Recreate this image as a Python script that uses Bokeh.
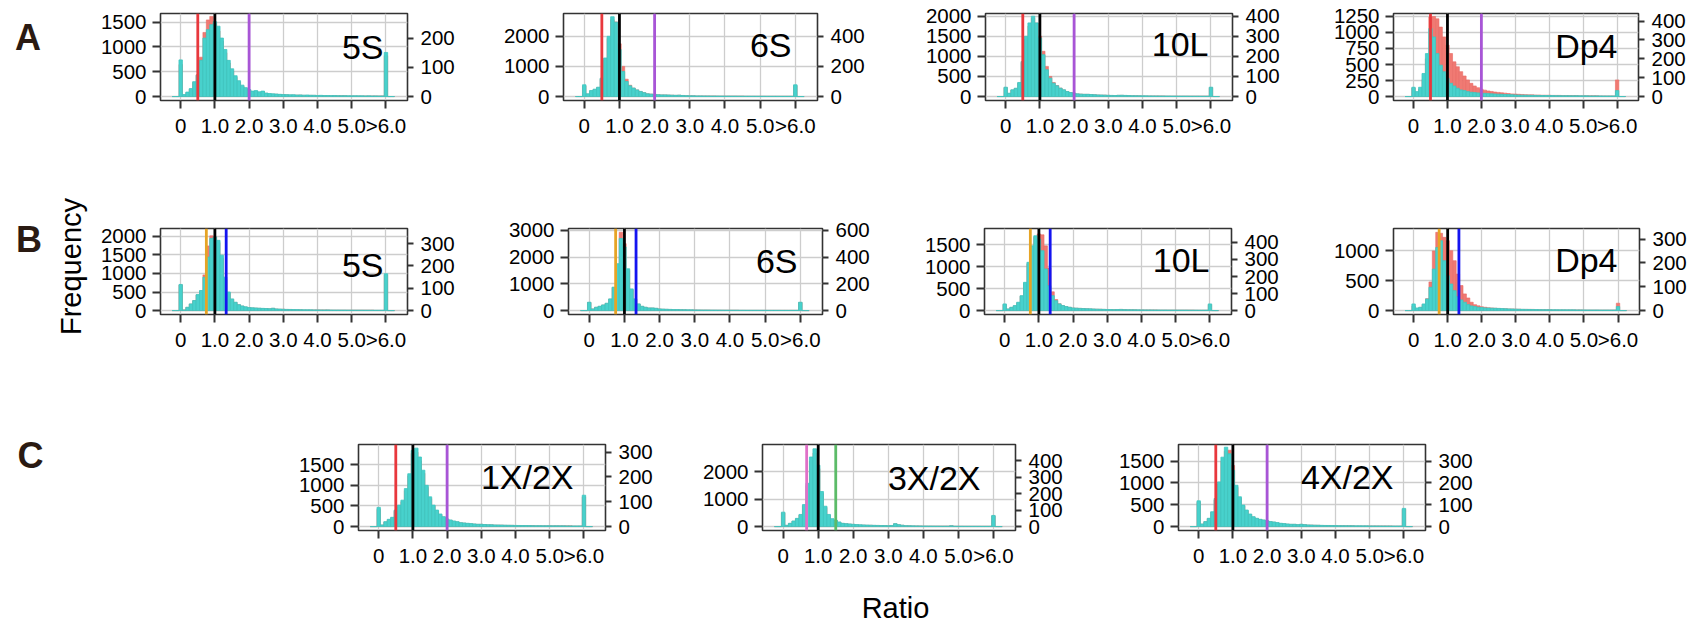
import numpy as np
from bokeh.plotting import figure
from bokeh.models import Range1d, LinearAxis, FixedTicker, Span, Label, Spacer, ColumnDataSource
from bokeh.layouts import row, column
from bokeh.embed import file_html
from bokeh.resources import INLINE
from bokeh.core.properties import value

FONT = "Liberation Sans"

# ---------------- data ----------------
bin_centers = np.round(np.arange(-0.2, 6.2001, 0.1), 1)   # 65 bins, width 0.1
x_tick_values = [0, 1, 2, 3, 4, 5, 6]
x_tick_labels = ["0", "1.0", "2.0", "3.0", "4.0", "5.0", ">6.0"]

# teal histograms (left axis counts), red histograms (right axis counts)
a_5s_teal = [0, 0, 740, 40, 90, 160, 300, 430, 730, 1180,
             1350, 1450, 1510, 1420, 1180, 950, 730, 560, 420, 320,
             230, 180, 140, 110, 120, 95, 110, 70, 60, 55,
             50, 45, 40, 38, 35, 36, 30, 32, 28, 30,
             26, 25, 22, 24, 20, 21, 19, 20, 18, 17,
             18, 16, 15, 16, 14, 15, 13, 14, 12, 13,
             11, 12, 890, 0, 0]
a_5s_red = [0, 0, 110, 5, 13, 25, 48, 75, 135, 220,
            263, 275, 250, 225, 190, 150, 115, 88, 66, 50,
            36, 28, 22, 17, 18, 14, 17, 11, 9, 8,
            8, 7, 6, 6, 5, 5, 5, 5, 4, 4,
            4, 4, 3, 3, 3, 3, 3, 3, 3, 3,
            3, 2, 2, 2, 2, 2, 2, 2, 2, 2,
            2, 2, 140, 0, 0]
a_6s_teal = [0, 0, 390, 90, 200, 245, 310, 610, 1280, 2000,
             2650, 2470, 1560, 830, 500, 355, 280, 220, 170, 130,
             90, 80, 70, 60, 55, 55, 50, 45, 40, 45,
             35, 30, 25, 24, 22, 22, 20, 19, 18, 18,
             17, 16, 15, 15, 14, 14, 13, 13, 12, 12,
             12, 11, 11, 11, 10, 10, 10, 10, 9, 9,
             9, 9, 390, 0, 0]
a_6s_red = [0, 0, 70, 16, 36, 45, 58, 115, 245, 385,
            510, 495, 350, 200, 115, 75, 56, 44, 33, 26,
            18, 16, 14, 12, 11, 11, 10, 9, 8, 9,
            7, 6, 5, 5, 4, 4, 4, 4, 4, 4,
            3, 3, 3, 3, 3, 3, 3, 3, 2, 2,
            2, 2, 2, 2, 2, 2, 2, 2, 2, 2,
            2, 2, 72, 0, 0]
a_10l_teal = [0, 0, 233, 83, 167, 208, 350, 875, 1500, 1833,
              2000, 1833, 1458, 1040, 667, 458, 333, 267, 208, 167,
              125, 100, 83, 67, 60, 55, 55, 50, 45, 40,
              38, 35, 30, 28, 26, 30, 32, 28, 25, 22,
              20, 19, 18, 17, 16, 16, 15, 14, 14, 13,
              13, 12, 12, 11, 11, 11, 10, 10, 10, 9,
              9, 9, 233, 0, 0]
a_10l_red = [0, 0, 44, 15, 32, 40, 66, 170, 285, 350,
             390, 365, 300, 225, 150, 100, 70, 55, 42, 33,
             25, 20, 16, 13, 12, 11, 11, 10, 9, 8,
             7, 7, 6, 5, 5, 6, 6, 5, 5, 4,
             4, 4, 3, 3, 3, 3, 3, 3, 3, 2,
             2, 2, 2, 2, 2, 2, 2, 2, 2, 2,
             2, 2, 44, 0, 0]
a_dp4_teal = [0, 0, 145, 77, 145, 360, 670, 1060, 930, 670,
              490, 387, 284, 207, 165, 130, 103, 93, 77, 67,
              62, 57, 52, 50, 46, 42, 40, 37, 35, 32,
              30, 28, 25, 23, 22, 21, 20, 19, 18, 17,
              16, 16, 15, 15, 14, 14, 13, 13, 12, 12,
              12, 11, 11, 11, 10, 10, 10, 10, 9, 9,
              9, 9, 93, 0, 0]
a_dp4_red = [0, 0, 45, 20, 40, 90, 200, 421, 424, 412,
             368, 316, 272, 228, 184, 158, 132, 109, 88, 70,
             56, 47, 39, 34, 30, 27, 24, 22, 20, 18,
             16, 14, 13, 12, 11, 10, 9, 9, 8, 8,
             7, 7, 7, 6, 6, 6, 5, 5, 5, 5,
             5, 4, 4, 4, 4, 4, 4, 3, 3, 3,
             3, 3, 88, 0, 0]
b_5s_teal = [0, 0, 703, 18, 90, 180, 270, 430, 540, 900,
             1440, 1940, 1980, 1890, 1490, 900, 500, 315, 225, 160,
             125, 100, 81, 75, 70, 65, 60, 55, 50, 63,
             45, 40, 35, 32, 30, 28, 26, 24, 22, 21,
             20, 19, 18, 17, 16, 18, 15, 14, 14, 13,
             13, 12, 12, 11, 11, 11, 10, 10, 10, 9,
             9, 9, 990, 0, 0]
b_5s_red = [0, 0, 115, 3, 14, 29, 44, 70, 88, 160,
            290, 335, 330, 305, 235, 140, 78, 50, 36, 26,
            20, 16, 13, 12, 11, 10, 9, 9, 8, 10,
            7, 6, 6, 5, 5, 4, 4, 4, 3, 3,
            3, 3, 3, 3, 3, 3, 2, 2, 2, 2,
            2, 2, 2, 2, 2, 2, 2, 2, 2, 1,
            1, 1, 160, 0, 0]
b_6s_teal = [0, 0, 312, 62, 125, 162, 212, 275, 437, 875,
             1750, 2690, 2375, 1560, 810, 437, 250, 162, 125, 100,
             100, 87, 62, 55, 50, 45, 40, 38, 35, 32,
             30, 28, 25, 24, 22, 21, 20, 19, 18, 17,
             16, 15, 15, 14, 14, 13, 13, 12, 12, 12,
             11, 11, 11, 10, 10, 10, 10, 9, 9, 9,
             9, 9, 312, 0, 0]
b_6s_red = [0, 0, 60, 12, 24, 31, 41, 53, 85, 172,
            345, 585, 500, 300, 155, 84, 48, 31, 24, 19,
            19, 16, 12, 10, 9, 8, 7, 7, 6, 6,
            5, 5, 5, 4, 4, 4, 4, 3, 3, 3,
            3, 3, 3, 3, 3, 2, 2, 2, 2, 2,
            2, 2, 2, 2, 2, 2, 2, 2, 2, 2,
            2, 2, 60, 0, 0]
b_10l_teal = [0, 0, 152, 38, 76, 114, 190, 340, 644, 1100,
              1477, 1705, 1629, 1364, 947, 568, 340, 227, 152, 114,
              91, 76, 60, 55, 50, 45, 42, 40, 36, 33,
              30, 28, 25, 24, 22, 24, 26, 22, 20, 19,
              18, 17, 16, 16, 15, 15, 14, 14, 13, 13,
              12, 12, 12, 11, 11, 11, 10, 10, 10, 9,
              9, 9, 152, 0, 0]
b_10l_red = [0, 0, 35, 9, 18, 27, 45, 85, 160, 275,
             370, 430, 450, 445, 380, 250, 110, 65, 40, 29,
             23, 19, 15, 14, 13, 12, 11, 10, 9, 8,
             8, 7, 6, 6, 6, 6, 7, 6, 5, 5,
             5, 4, 4, 4, 4, 4, 4, 3, 3, 3,
             3, 3, 3, 3, 3, 3, 3, 3, 2, 2,
             2, 2, 35, 0, 0]
b_dp4_teal = [0, 0, 111, 44, 56, 111, 194, 389, 694, 1055,
              1167, 833, 583, 444, 333, 233, 178, 139, 100, 78,
              67, 56, 50, 45, 42, 40, 38, 36, 33, 30,
              28, 26, 24, 22, 21, 20, 19, 18, 17, 16,
              16, 15, 15, 14, 14, 13, 13, 12, 12, 12,
              11, 11, 11, 10, 10, 10, 10, 9, 9, 9,
              9, 9, 67, 0, 0]
b_dp4_red = [0, 0, 20, 8, 12, 25, 50, 120, 250, 328,
             324, 307, 293, 251, 209, 153, 105, 70, 53, 35,
             25, 20, 16, 14, 12, 11, 10, 9, 8, 8,
             7, 7, 6, 6, 5, 5, 5, 5, 4, 4,
             4, 4, 4, 3, 3, 3, 3, 3, 3, 3,
             3, 3, 2, 2, 2, 2, 2, 2, 2, 2,
             2, 2, 31, 0, 0]
c_1x_teal = [0, 0, 465, 40, 120, 176, 225, 400, 520, 640,
             920, 1280, 1845, 1900, 1685, 1365, 1000, 720, 520, 400,
             305, 240, 185, 160, 136, 120, 96, 88, 80, 72,
             64, 56, 56, 50, 46, 44, 40, 38, 36, 34,
             32, 30, 28, 27, 26, 25, 24, 23, 22, 22,
             21, 20, 20, 19, 19, 18, 18, 17, 17, 16,
             16, 16, 760, 0, 0]
c_1x_red = [0, 0, 70, 6, 18, 27, 35, 62, 80, 100,
            145, 205, 295, 300, 265, 215, 158, 113, 82, 63,
            48, 38, 29, 25, 21, 19, 15, 14, 12, 11,
            10, 9, 9, 8, 7, 7, 6, 6, 6, 5,
            5, 5, 4, 4, 4, 4, 4, 4, 3, 3,
            3, 3, 3, 3, 3, 3, 3, 3, 3, 2,
            2, 2, 120, 0, 0]
c_3x_teal = [0, 0, 527, 48, 120, 204, 300, 443, 803, 1580,
             2540, 2840, 2240, 1280, 743, 443, 288, 228, 168, 120,
             108, 96, 84, 72, 66, 60, 54, 50, 45, 42,
             38, 36, 34, 40, 108, 70, 50, 35, 30, 28,
             26, 24, 22, 21, 20, 19, 18, 17, 16, 16,
             30, 15, 14, 14, 13, 13, 12, 12, 12, 11,
             11, 11, 407, 0, 0]
c_3x_red = [0, 0, 83, 7, 19, 32, 47, 70, 127, 250,
            400, 448, 353, 202, 117, 70, 45, 36, 26, 19,
            17, 15, 13, 11, 10, 9, 8, 8, 7, 7,
            6, 6, 5, 6, 17, 11, 8, 5, 5, 4,
            4, 4, 3, 3, 3, 3, 3, 3, 3, 3,
            5, 2, 2, 2, 2, 2, 2, 2, 2, 2,
            2, 2, 64, 0, 0]
c_4x_teal = [0, 0, 590, 60, 114, 190, 340, 644, 1023, 1590,
             1818, 1667, 1288, 947, 682, 492, 379, 288, 227, 190,
             167, 152, 136, 114, 106, 91, 76, 68, 60, 53,
             53, 45, 53, 45, 38, 35, 32, 30, 28, 26,
             25, 24, 23, 22, 21, 20, 20, 19, 18, 18,
             17, 17, 16, 16, 15, 15, 14, 14, 14, 13,
             13, 13, 417, 0, 0]
c_4x_red = [0, 0, 112, 11, 22, 36, 65, 122, 195, 300,
            345, 350, 280, 180, 130, 94, 72, 55, 43, 36,
            32, 29, 26, 22, 20, 17, 14, 13, 11, 10,
            10, 9, 10, 9, 7, 7, 6, 6, 5, 5,
            5, 5, 4, 4, 4, 4, 4, 4, 3, 3,
            3, 3, 3, 3, 3, 3, 3, 3, 3, 2,
            2, 2, 79, 0, 0]

# reference lines
lines_a = [0.5, 1.0, 2.0]
lines_b = [0.75, 1.0, 1.33]
lines_c3 = [0.67, 1.0, 1.5]

# ---------------- styles ----------------
TEAL = "#48D1CC"
TEAL_LINE = "#3EC6C0"
RED = "#F07A73"
RED_LINE = "#EA6A63"
C_RED = "#E8383D"
C_BLACK = "#000000"
C_PURPLE = "#A855D6"
C_ORANGE = "#E6A425"
C_BLUE = "#1414F0"
C_PINK = "#E070C8"
C_GREEN = "#5CBB68"
cols_a = [C_RED, C_BLACK, C_PURPLE]
cols_b = [C_ORANGE, C_BLACK, C_BLUE]
cols_c3 = [C_PINK, C_BLACK, C_GREEN]

XMIN, XMAX = -0.59, 6.63
LB, RB, TB, BB = 66, 54, 13, 40


def style_axis(ax, tick_out, standoff):
    ax.axis_line_color = None
    ax.major_tick_line_color = "#333333"
    ax.major_tick_line_width = 2
    ax.major_tick_out = tick_out
    ax.major_tick_in = 0
    ax.minor_tick_line_color = None
    ax.major_label_text_font = FONT
    ax.major_label_text_font_size = "20.5px"
    ax.major_label_text_color = "black"
    ax.major_label_standoff = standoff


def make_panel(teal, red, label, vl, vc, fw, fh, yl_max, yl_ticks, yr_max, yr_ticks, lab_d, lab_t):
    assert len(teal) == len(bin_centers) and len(red) == len(bin_centers)
    ymin = -yl_max / 21.0
    p = figure(frame_width=fw, frame_height=fh,
               x_range=Range1d(XMIN, XMAX), y_range=Range1d(ymin, yl_max),
               output_backend="svg", toolbar_location=None,
               min_border_left=LB, min_border_right=RB, min_border_top=TB, min_border_bottom=BB,
               background_fill_color="white", border_fill_color="white")
    p.extra_y_ranges = {"r": Range1d(-yr_max / 21.0, yr_max)}
    src = ColumnDataSource(dict(left=bin_centers - 0.05, right=bin_centers + 0.05,
                                teal=teal, red=red))
    p.quad(left="left", right="right", bottom=0, top="red", source=src, y_range_name="r",
           fill_color=RED, line_color=RED_LINE, line_width=0.6)
    p.quad(left="left", right="right", bottom=0, top="teal", source=src,
           fill_color=TEAL, line_color=TEAL_LINE, line_width=0.8)
    for loc, c in zip(vl, vc):
        p.add_layout(Span(location=loc, dimension="height", line_color=c, line_width=2.8))

    p.xaxis.ticker = FixedTicker(ticks=x_tick_values)
    p.xaxis.major_label_overrides = {v: t for v, t in zip(x_tick_values, x_tick_labels)}
    p.yaxis.ticker = FixedTicker(ticks=yl_ticks)
    rax = LinearAxis(y_range_name="r", ticker=FixedTicker(ticks=yr_ticks))
    p.add_layout(rax, "right")
    style_axis(p.xaxis[0], 8, 5)
    style_axis(p.yaxis[0], 8, 6)
    style_axis(rax, 6, 7)

    p.xgrid.grid_line_color = "#CDCDCD"
    p.xgrid.grid_line_width = 1.3
    p.ygrid.grid_line_color = "#CDCDCD"
    p.ygrid.grid_line_width = 1.3
    p.outline_line_color = "#333333"
    p.outline_line_width = 1.6
    p.outline_line_alpha = 1.0

    fs = 34
    lx = XMAX - lab_d * (XMAX - XMIN) / fw
    ly = yl_max - (lab_t + 0.716 * fs) * (yl_max - ymin) / fh
    p.add_layout(Label(x=lx, y=ly, text=label, text_font=FONT, text_font_size=f"{fs}px",
                       text_align="right", text_baseline="alphabetic", text_color="black"))
    return p


pA1 = make_panel(a_5s_teal, a_5s_red, "5S", lines_a, cols_a, 247, 87, 1676, [0, 500, 1000, 1500], 285, [0, 100, 200], 24, 8.7)
pA2 = make_panel(a_6s_teal, a_6s_red, "6S", lines_a, cols_a, 254, 87, 2757, [0, 1000, 2000], 551, [0, 200, 400], 26, 6.7)
pA3 = make_panel(a_10l_teal, a_10l_red, "10L", lines_a, cols_a, 247, 87, 2067, [0, 500, 1000, 1500, 2000], 413, [0, 100, 200, 300, 400], 24, 6)
pA4 = make_panel(a_dp4_teal, a_dp4_red, "Dp4", lines_a, cols_a, 245, 87, 1296, [0, 250, 500, 750, 1000, 1250], 440, [0, 100, 200, 300, 400], 21, 7.7)

pB1 = make_panel(b_5s_teal, b_5s_red, "5S", lines_b, cols_b, 247, 86, 2208, [0, 500, 1000, 1500, 2000], 368, [0, 100, 200, 300], 24, 12)
pB2 = make_panel(b_6s_teal, b_6s_red, "6S", lines_b, cols_b, 254, 86, 3064, [0, 1000, 2000, 3000], 613, [0, 200, 400, 600], 25, 8.4)
pB3 = make_panel(b_10l_teal, b_10l_red, "10L", lines_b, cols_b, 247, 86, 1871, [0, 500, 1000, 1500], 482, [0, 100, 200, 300, 400], 22, 7.3)
pB4 = make_panel(b_dp4_teal, b_dp4_red, "Dp4", lines_b, cols_b, 246, 86, 1372, [0, 500, 1000], 344, [0, 100, 200, 300], 22, 7.3)

pC1 = make_panel(c_1x_teal, c_1x_red, "1X/2X", lines_a, cols_a, 247, 86, 1988, [0, 500, 1000, 1500], 331, [0, 100, 200, 300], 32, 7.7)
pC2 = make_panel(c_3x_teal, c_3x_red, "3X/2X", lines_c3, cols_c3, 253, 86, 2996, [0, 1000, 2000], 500, [0, 100, 200, 300, 400], 35, 9)
pC3 = make_panel(c_4x_teal, c_4x_red, "4X/2X", lines_a, cols_a, 247, 86, 1880, [0, 500, 1000, 1500], 376, [0, 100, 200, 300], 32, 7.7)

rowA = row(Spacer(width=6, height=10), pA1, Spacer(width=36, height=10), pA2,
           Spacer(width=48, height=10), pA3, Spacer(width=41, height=10), pA4)
rowB = row(Spacer(width=6, height=10), pB1, Spacer(width=41, height=10), pB2,
           Spacer(width=42, height=10), pB3, Spacer(width=42, height=10), pB4)
rowC = row(Spacer(width=204, height=10), pC1, Spacer(width=37, height=10), pC2,
           Spacer(width=43, height=10), pC3)
# row A: 0..140, row B: 215..354, row C: 431..570
panels = column(rowA, Spacer(width=10, height=75), rowB, Spacer(width=10, height=77), rowC)

# left strip with panel letters and y title (screen-pixel coordinates, y up)
left = figure(frame_width=80, frame_height=570, x_range=Range1d(0, 80), y_range=Range1d(0, 570),
              output_backend="svg", toolbar_location=None, min_border=0,
              x_axis_location=None, y_axis_location=None)
left.grid.visible = False
left.outline_line_color = None
left.text(x=[19.5, 20.5, 22], y=[533, 331, 115], text=["A", "B", "C"],
          text_font=value(FONT), text_font_style="bold", text_font_size="36px",
          text_align="center", text_baseline="middle", text_color="#2A1A12")
left.text(x=[62], y=[304], text=["Frequency"], angle=np.pi / 2,
          text_font=value(FONT), text_font_size="29px",
          text_align="center", text_baseline="middle", text_color="black")

bottom = figure(frame_width=1702, frame_height=53, x_range=Range1d(0, 1702), y_range=Range1d(0, 53),
                output_backend="svg", toolbar_location=None, min_border=0,
                x_axis_location=None, y_axis_location=None)
bottom.grid.visible = False
bottom.outline_line_color = None
bottom.text(x=[895], y=[16], text=["Ratio"], text_font=value(FONT), text_font_size="29px",
            text_align="center", text_baseline="middle", text_color="black")

layout = column(row(Spacer(width=8, height=10), left, panels), bottom)

open("out.html", "w").write(file_html(layout, INLINE))
